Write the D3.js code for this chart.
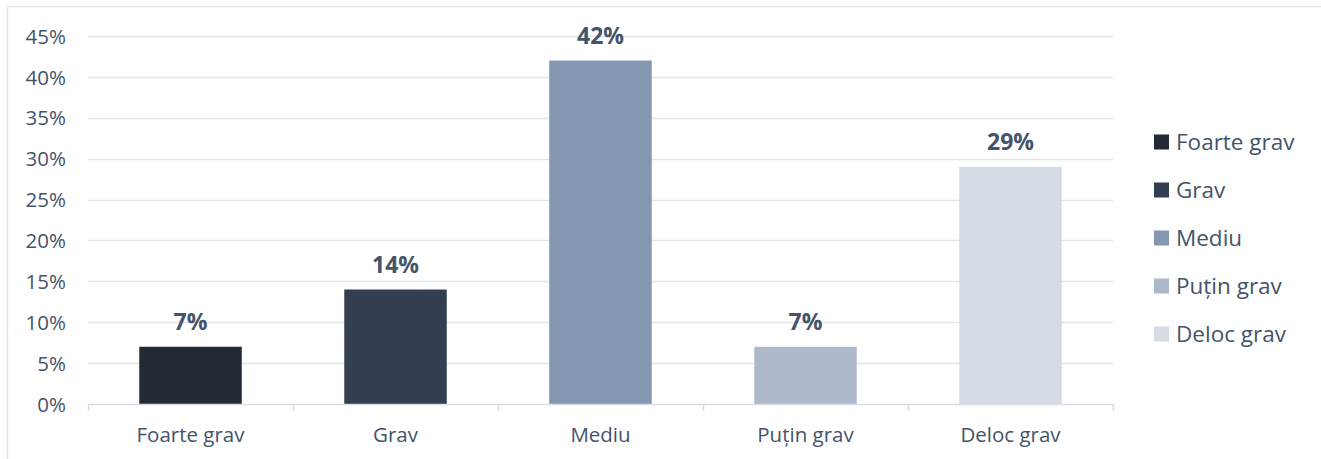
<!DOCTYPE html>
<html>
<head>
<meta charset="utf-8">
<script src="https://cdn.jsdelivr.net/npm/d3@7"></script>
<style>
  html, body { margin: 0; padding: 0; background: #fff; }
  svg { display: block; font-family: "Open Sans", "Noto Sans", sans-serif; }
</style>
</head>
<body>
<svg id="chart" width="1321" height="459"></svg>
<script>
// Severity categories and their shares (percent)
const categories = ["Foarte grav", "Grav", "Mediu", "Puțin grav", "Deloc grav"];
const values = [7, 14, 42, 7, 29];
const colors = ["#222a35", "#333f50", "#8497b0", "#adb9ca", "#d6dce5"];
const yTicks = [0, 5, 10, 15, 20, 25, 30, 35, 40, 45];

const svg = d3.select("#chart");
const textColor = "#44546a";
const gridColor = "#e1e5eb";

// Outer frame (top and left edges)
svg.append("line").attr("x1", 7.5).attr("x2", 1321).attr("y1", 6.5).attr("y2", 6.5)
  .attr("stroke", "#e3e7ec").attr("stroke-width", 1.5);
svg.append("line").attr("x1", 7.5).attr("x2", 7.5).attr("y1", 6.5).attr("y2", 459)
  .attr("stroke", "#e3e7ec").attr("stroke-width", 1.5);

const plot = { left: 88, right: 1113, top: 36, bottom: 404 };

const x = d3.scaleBand().domain(categories).range([plot.left, plot.right])
  .paddingInner(0.5).paddingOuter(0.25);
const y = d3.scaleLinear().domain([0, 45]).range([plot.bottom, plot.top]);

// Horizontal gridlines
svg.append("g").selectAll("line").data(yTicks.filter(d => d > 0)).join("line")
  .attr("x1", plot.left).attr("x2", plot.right)
  .attr("y1", d => Math.round(y(d)) + 0.5).attr("y2", d => Math.round(y(d)) + 0.5)
  .attr("stroke", gridColor).attr("stroke-width", 1.5);

// Y axis labels
const yAxis = d3.axisLeft(y).tickValues(yTicks).tickFormat(d => d + "%").tickSize(0).tickPadding(22);
const gy = svg.append("g").attr("transform", `translate(${plot.left},0)`).call(yAxis);
gy.select(".domain").remove();
gy.attr("font-family", null);
gy.selectAll("text").attr("fill", textColor).attr("font-size", 20.5).attr("dy", "0.35em");

// Bars
svg.append("g").selectAll("rect").data(values).join("rect")
  .attr("x", (d, i) => x(categories[i]))
  .attr("width", x.bandwidth())
  .attr("y", d => y(d))
  .attr("height", d => y(0) - y(d))
  .attr("fill", (d, i) => colors[i]);

// X axis with boundary ticks between categories
const step = x.step();
const boundaries = d3.range(categories.length + 1).map(i => plot.left + i * step);
const gx = svg.append("g");
gx.append("line").attr("x1", plot.left).attr("x2", plot.right)
  .attr("y1", plot.bottom + 0.5).attr("y2", plot.bottom + 0.5)
  .attr("stroke", "#d9dde3").attr("stroke-width", 1.5);
gx.selectAll("line.tick").data(boundaries).join("line").attr("class", "tick")
  .attr("x1", d => d + 0.5).attr("x2", d => d + 0.5)
  .attr("y1", plot.bottom).attr("y2", plot.bottom + 7)
  .attr("stroke", "#d9dde3").attr("stroke-width", 1.5);
gx.selectAll("text").data(categories).join("text")
  .attr("x", d => x(d) + x.bandwidth() / 2)
  .attr("y", 442)
  .attr("text-anchor", "middle")
  .attr("fill", textColor).attr("font-size", 20.5)
  .text(d => d);

// Value labels
svg.append("g").selectAll("text").data(values).join("text")
  .attr("x", (d, i) => x(categories[i]) + x.bandwidth() / 2)
  .attr("y", d => y(d) - 17)
  .attr("text-anchor", "middle")
  .attr("fill", textColor).attr("font-size", 23).attr("font-weight", "bold")
  .text(d => d + "%");

// Legend
const legend = svg.append("g").selectAll("g").data(categories).join("g")
  .attr("transform", (d, i) => `translate(1154, ${142 + i * 48})`);
legend.append("rect").attr("x", 0).attr("y", -7.5).attr("width", 15).attr("height", 15)
  .attr("fill", (d, i) => colors[i]);
legend.append("text").attr("x", 22).attr("y", 7.5)
  .attr("fill", textColor).attr("font-size", 22.5)
  .text(d => d);
</script>
</body>
</html>
